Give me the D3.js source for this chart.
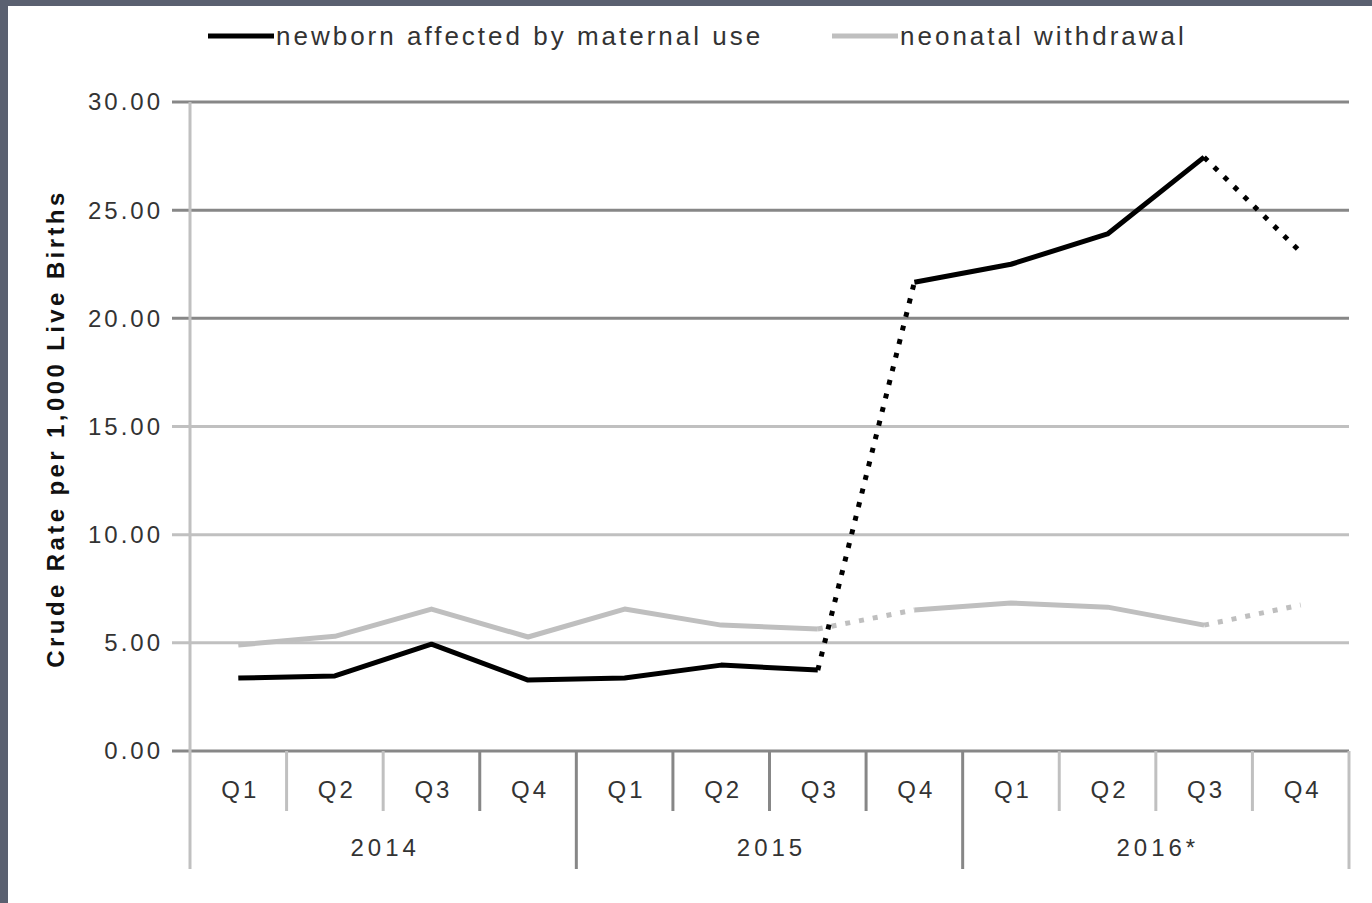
<!DOCTYPE html>
<html>
<head>
<meta charset="utf-8">
<script src="https://cdn.jsdelivr.net/npm/d3@7"></script>
<style>
  html, body { margin: 0; padding: 0; background: #5a6070; }
  #chart { position: absolute; left: 8px; top: 6px; width: 1364px; height: 897px; background: #fff; }
  text { font-family: "Liberation Sans", Arial, sans-serif; }
</style>
</head>
<body>
<div id="chart"></div>
<script>
// data
const quarters = ["Q1", "Q2", "Q3", "Q4", "Q1", "Q2", "Q3", "Q4", "Q1", "Q2", "Q3", "Q4"];
const years = ["2014", "2015", "2016*"];
const maternalUse = [3.37, 3.47, 4.94, 3.28, 3.37, 3.97, 3.74, 21.67, 22.5, 23.9, 27.45, 23.06];
const withdrawal = [4.9, 5.3, 6.56, 5.27, 6.56, 5.82, 5.64, 6.52, 6.84, 6.65, 5.82, 6.75];
// which segments are dotted (segment i goes from point i to i+1)
const dottedSegments = [6, 10];
const yTicks = [0, 5, 10, 15, 20, 25, 30];

const W = 1364, H = 897;
// plot box relative to the white panel (panel sits at 8,6)
const plot = {left: 182, right: 1341, top: 96, bottom: 745};

const svg = d3.select("#chart").append("svg")
    .attr("width", W)
    .attr("height", H);

const x = d3.scaleBand()
    .domain(d3.range(quarters.length))
    .range([plot.left, plot.right]);

const y = d3.scaleLinear()
    .domain([0, 30])
    .range([plot.bottom, plot.top]);

// gridlines
const darkLines = [0, 20, 25, 30];
svg.append("g").selectAll("line")
    .data(yTicks)
    .enter()
    .append("line")
    .attr("x1", plot.left - 18)
    .attr("x2", plot.right)
    .attr("y1", d => y(d))
    .attr("y2", d => y(d))
    .style("stroke", d => darkLines.includes(d) ? "#878787" : "#c0c0c0")
    .style("stroke-width", "3px");

// y axis line
svg.append("line")
    .attr("x1", plot.left).attr("x2", plot.left)
    .attr("y1", plot.top).attr("y2", plot.bottom)
    .style("stroke", "#c0c0c0")
    .style("stroke-width", "3px");

// y tick labels
svg.append("g").selectAll("text")
    .data(yTicks)
    .enter()
    .append("text")
    .attr("x", plot.left - 27)
    .attr("y", d => y(d))
    .attr("dy", "0.35em")
    .attr("text-anchor", "end")
    .attr("font-size", "24px")
    .style("letter-spacing", "3px")
    .style("fill", "#333")
    .text(d => d.toFixed(2));

// y axis title
svg.append("text")
    .attr("transform", `translate(56, ${(plot.top + plot.bottom) / 2 + 2}) rotate(-90)`)
    .attr("text-anchor", "middle")
    .attr("font-size", "24px")
    .attr("font-weight", "bold")
    .style("letter-spacing", "3.4px")
    .style("fill", "#111")
    .text("Crude Rate per 1,000 Live Births");

// category axis: quarter separators
const qSep = d3.range(1, quarters.length).filter(i => i % 4 !== 0);
svg.append("g").selectAll("line")
    .data(qSep)
    .enter()
    .append("line")
    .attr("x1", i => x(i)).attr("x2", i => x(i))
    .attr("y1", plot.bottom).attr("y2", plot.bottom + 60)
    .style("stroke", i => (i >= 3 && i <= 8) ? "#878787" : "#c0c0c0")
    .style("stroke-width", "3px");

// year separators
const ySep = [0, 4, 8, 12];
svg.append("g").selectAll("line")
    .data(ySep)
    .enter()
    .append("line")
    .attr("x1", i => i === 12 ? plot.right : x(i)).attr("x2", i => i === 12 ? plot.right : x(i))
    .attr("y1", plot.bottom).attr("y2", plot.bottom + 118)
    .style("stroke", i => (i === 4 || i === 8) ? "#878787" : "#c0c0c0")
    .style("stroke-width", "3px");

// quarter labels
svg.append("g").selectAll("text")
    .data(quarters)
    .enter()
    .append("text")
    .attr("x", (d, i) => x(i) + x.bandwidth() / 2 + 2)
    .attr("y", plot.bottom + 47)
    .attr("text-anchor", "middle")
    .attr("font-size", "24px")
    .style("letter-spacing", "3px")
    .style("fill", "#333")
    .text(d => d);

// year labels
svg.append("g").selectAll("text")
    .data(years)
    .enter()
    .append("text")
    .attr("x", (d, i) => x(i * 4) + x.bandwidth() * 2 + 2)
    .attr("y", plot.bottom + 105)
    .attr("text-anchor", "middle")
    .attr("font-size", "24px")
    .style("letter-spacing", "4px")
    .style("fill", "#333")
    .text(d => d);

// lines, split into solid and dotted segments
function drawSeries(values, color, width, dash) {
    const segs = d3.range(values.length - 1).map(i => ({
        a: [x(i) + x.bandwidth() / 2, y(values[i])],
        b: [x(i + 1) + x.bandwidth() / 2, y(values[i + 1])],
        dotted: dottedSegments.includes(i)
    }));
    // solid runs
    let runs = [], cur = [];
    segs.forEach(s => {
        if (s.dotted) {
            if (cur.length) runs.push(cur);
            cur = [];
        } else {
            if (!cur.length) cur.push(s.a);
            cur.push(s.b);
        }
    });
    if (cur.length) runs.push(cur);

    const line = d3.line();
    svg.append("g").selectAll("path")
        .data(runs)
        .enter()
        .append("path")
        .attr("d", d => line(d))
        .style("fill", "none")
        .style("stroke", color)
        .style("stroke-width", width + "px")
        .style("stroke-linejoin", "round");

    svg.append("g").selectAll("path")
        .data(segs.filter(s => s.dotted))
        .enter()
        .append("path")
        .attr("d", d => line([d.a, d.b]))
        .style("fill", "none")
        .style("stroke", color)
        .style("stroke-width", width + "px")
        .style("stroke-dasharray", dash);
}

drawSeries(withdrawal, "#bfbfbf", 5, "5,9");
drawSeries(maternalUse, "#000", 5, "5,9");

// legend
const legend = [
    {label: "newborn affected by maternal use", color: "#000", x: 200},
    {label: "neonatal withdrawal", color: "#bfbfbf", x: 824}
];
const lg = svg.append("g").selectAll("g")
    .data(legend)
    .enter()
    .append("g")
    .attr("transform", d => `translate(${d.x}, 30)`);

lg.append("line")
    .attr("x1", 0).attr("x2", 66)
    .attr("y1", 0).attr("y2", 0)
    .style("stroke", d => d.color)
    .style("stroke-width", "5px");

lg.append("text")
    .attr("x", 68)
    .attr("dy", "0.35em")
    .attr("font-size", "26px")
    .style("letter-spacing", "3px")
    .style("fill", "#333")
    .text(d => d.label);
</script>
</body>
</html>
